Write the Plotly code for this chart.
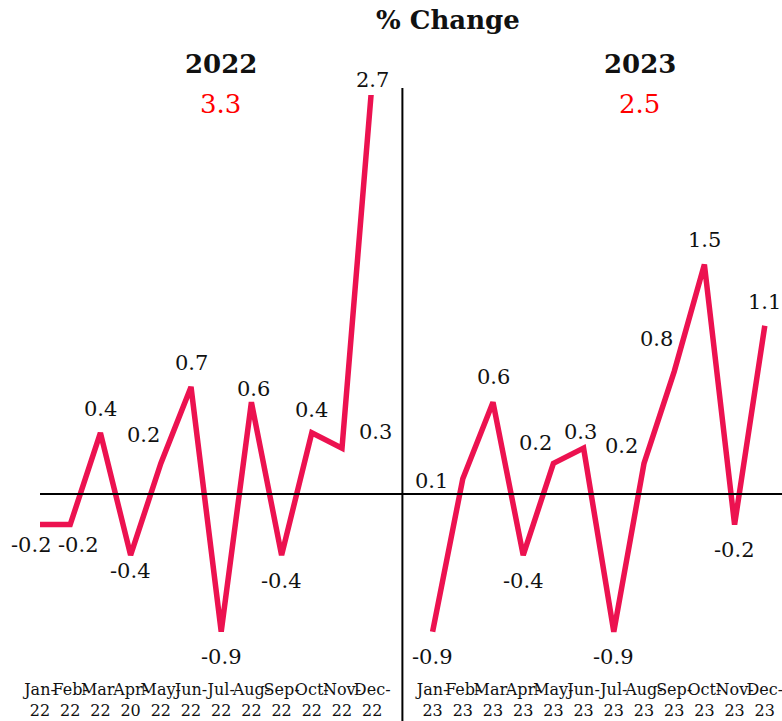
import plotly.graph_objects as go

months = ["Jan", "Feb", "Mar", "Apr", "May", "Jun", "Jul", "Aug", "Sep", "Oct", "Nov", "Dec"]
year_labels_2022 = ["22", "22", "22", "20", "22", "22", "22", "22", "22", "22", "22", "22"]
year_labels_2023 = ["23"] * 12
values_2022 = [-0.2, -0.2, 0.4, -0.4, 0.2, 0.7, -0.9, 0.6, -0.4, 0.4, 0.3, 2.7]
values_2023 = [-0.9, 0.1, 0.6, -0.4, 0.2, 0.3, -0.9, 0.2, 0.8, 1.5, -0.2, 1.1]
annual_2022 = "3.3"
annual_2023 = "2.5"
title_text = "% Change"

# styling: label offsets in px (dx, dy downwards)
offs_2022 = [(-9, 20), (8, 20), (0, -24), (0, 16), (-17, -28), (0, -24), (0, 25),
             (2, -13), (0, 26), (0, -23), (33, -16), (0, -15)]
offs_2023 = [(0, 25), (-31, 2), (0, -25), (0, 26), (-18, -20), (-3, -16), (0, 25),
             (-22, -17), (-18, -33), (0, -25), (0, 25), (0, -24)]

LINE = "#EC1250"
FONT = "DejaVu Serif"
Y_MIN, Y_MAX = -1.2026, 2.608
X_MIN, X_MAX = -1.325, 24.57

x22 = list(range(12))
x23 = [i + 13 for i in range(12)]

fig = go.Figure()
fig.add_trace(go.Scatter(x=x22, y=values_2022, mode="lines",
                         line=dict(color=LINE, width=5.5), hoverinfo="skip"))
fig.add_trace(go.Scatter(x=x23, y=values_2023, mode="lines",
                         line=dict(color=LINE, width=5.5), hoverinfo="skip"))

annotations = []
for xs, vals, offs in ((x22, values_2022, offs_2022), (x23, values_2023, offs_2023)):
    for x, v, (dx, dy) in zip(xs, vals, offs):
        annotations.append(dict(x=x, y=min(v, Y_MAX), xref="x", yref="y", text=f"{v:.1f}",
                                showarrow=False, xshift=dx, yshift=-dy,
                                font=dict(family=FONT, size=21, color="#111111"),
                                xanchor="center", yanchor="middle"))

def paper_text(x, y, text, size, color):
    return dict(x=x, y=y, xref="paper", yref="paper", text=text, showarrow=False,
                xanchor="center", yanchor="middle",
                font=dict(family=FONT, size=size, color=color))

annotations += [
    paper_text(0.573, 1.1286, "<b>" + title_text + "</b>", 26, "#111111"),
    paper_text(0.2826, 1.0532, "<b>2022</b>", 26, "#111111"),
    paper_text(0.2826, 0.9846, annual_2022, 26, "#FF0000"),
    paper_text(0.818, 1.0532, "<b>2023</b>", 26, "#111111"),
    paper_text(0.818, 0.9846, annual_2023, 26, "#FF0000"),
]

shapes = [
    dict(type="line", xref="x", yref="y", x0=0, x1=X_MAX, y0=0, y1=0,
         line=dict(color="black", width=2)),
    dict(type="line", xref="x", yref="paper", x0=12, x1=12, y0=-0.08, y1=1.012,
         line=dict(color="black", width=2)),
]

tickvals = x22 + x23
ticktext = [f"{m}-<br>{y}" for m, y in zip(months, year_labels_2022)] + \
           [f"{m}-<br>{y}" for m, y in zip(months, year_labels_2023)]

fig.update_layout(
    width=782, height=721,
    margin=dict(l=0, r=0, t=95, b=43),
    paper_bgcolor="white", plot_bgcolor="white",
    showlegend=False,
    annotations=annotations,
    shapes=shapes,
    xaxis=dict(range=[X_MIN, X_MAX], tickvals=tickvals, ticktext=ticktext, tickangle=0,
               showgrid=False, zeroline=False, showline=False, ticks="",
               ticklabeloverflow="allow",
               tickfont=dict(family=FONT, size=16, color="#111111")),
    yaxis=dict(range=[Y_MIN, Y_MAX], showgrid=False, zeroline=False, showline=False,
               showticklabels=False, ticks=""),
)

fig.write_html("out.html", config={"displayModeBar": False},
               post_script="document.body.style.margin='0';document.body.style.overflow='hidden';")
